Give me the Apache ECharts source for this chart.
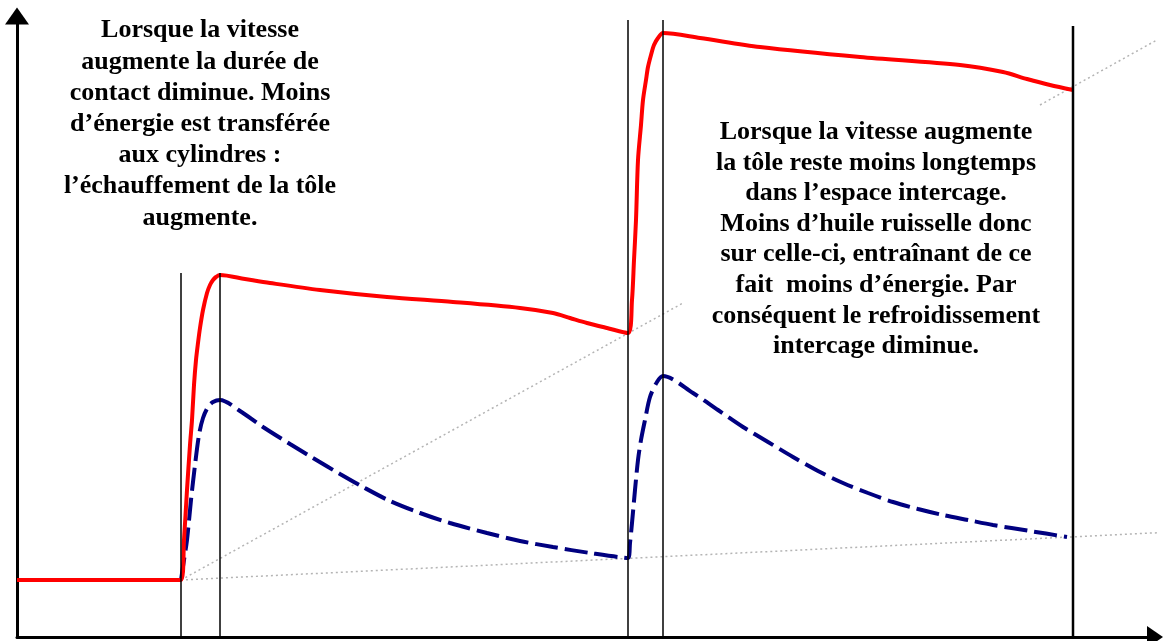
<!DOCTYPE html>
<html>
<head>
<meta charset="utf-8">
<script src="https://cdn.jsdelivr.net/npm/echarts@6/dist/echarts.min.js"></script>
<style>html,body{margin:0;padding:0;background:#fff;}#chart{width:1173px;height:641px;}</style>
</head>
<body>
<div id="chart"></div>
<script>
// Température de la tôle (rouge) et des cylindres (bleu, pointillés) en fonction du temps
var redTemp = [
  [0,57],[164,57],[167,97],[170,147],[173,192],[175,217],[177,252],[179,277],[181,294],[183,309],[186,327],[190,344],[193,352],[196,357],[199,360],[203,362],
  [228,358],[253,354],[303,347],[370,340],[436,335],[503,329],[536,324],[553,319],[570,314],[590,309],[611,304],
  [615,337],[617,377],[619,417],[621,477],[624,512],[626,537],[629,557],[631,570],[634,582],[637,592],[641,599],[646,604],
  [683,599],[743,590],[843,580],[943,572],[986,565],[1010,558],[1033,552],[1056,547]
];
var blueTemp = [
  [164,57],[167,77],[170,97],[174,137],[178,172],[182,202],[186,219],[191,230],[196,235],[203,237],
  [223,226],[246,210],[273,193],[296,179],[323,163],[346,150],[373,136],[403,124],[433,114],[470,104],[503,96],[536,90],[573,84],[611,79],
  [613,94],[615,114],[618,147],[621,177],[624,197],[628,217],[633,240],[640,255],[646,261],
  [676,244],[701,227],[726,210],[751,195],[776,180],[801,166],[826,154],[851,144],[876,135],[901,128],[926,122],[951,117],[976,112],[1013,106],[1050,100]
];
// lignes de tendance (pointillés gris)
var trendLow = [[164,57],[1156,105]];
var trendHighA = [[164,57],[666,334]];
var trendHighB = [[1023,532],[1156,606]];
// repères verticaux (instants de changement de vitesse)
var markX = [164, 203, 611, 646, 1056];
var markTop = [364, 364, 617, 617, 611];
var markWidth = [1.5, 1.5, 1.5, 1.5, 2.5];

var textLeft = 'Lorsque la vitesse\naugmente la durée de\ncontact diminue. Moins\nd’énergie est transférée\naux cylindres :\nl’échauffement de la tôle\naugmente.';
var textRight = 'Lorsque la vitesse augmente\nla tôle reste moins longtemps\ndans l’espace intercage.\nMoins d’huile ruisselle donc\nsur celle-ci, entraînant de ce\nfait  moins d’énergie. Par\nconséquent le refroidissement\nintercage diminue.';

var chart = echarts.init(document.getElementById('chart'));
var series = [];
function dotted(data) {
  return {type:'line', data:data, symbol:'none', silent:true, clip:false, z:1,
    lineStyle:{color:'#b4b4b4', width:1.5, type:[2,3]}};
}
series.push(dotted(trendLow), dotted(trendHighA), dotted(trendHighB));
series.push({type:'line', data:blueTemp, symbol:'none', smooth:0.3, silent:true, z:3,
  lineStyle:{color:'#000080', width:4, type:[23,7]}});
series.push({type:'line', data:redTemp, symbol:'none', smooth:0.3, silent:true, z:3,
  lineStyle:{color:'#ff0000', width:4}});
markX.forEach(function (x, i) {
  series.push({type:'line', data:[[x,0],[x,markTop[i]]], symbol:'none', silent:true, z:4,
    lineStyle:{color:'#000', width:markWidth[i]}});
});

chart.setOption({
  animation:false,
  backgroundColor:'#fff',
  grid:{left:17, right:18, top:16, bottom:4},
  xAxis:{type:'value', min:0, max:1138,
    axisLine:{show:true, lineStyle:{color:'#000', width:3}, symbol:['none','triangle'], symbolSize:[22,16]},
    axisTick:{show:false}, axisLabel:{show:false}, splitLine:{show:false}},
  yAxis:{type:'value', min:0, max:621,
    axisLine:{show:true, lineStyle:{color:'#000', width:3}, symbol:['none','triangle'], symbolSize:[24,17]},
    axisTick:{show:false}, axisLabel:{show:false}, splitLine:{show:false}},
  series:series,
  graphic:[
    {type:'text', x:200, y:15, z:10, silent:true,
      style:{text:textLeft, textAlign:'center', textVerticalAlign:'top', fontFamily:'Liberation Serif', fontWeight:'bold', fontSize:26, lineHeight:31.2, fill:'#000'}},
    {type:'text', x:876, y:117, z:10, silent:true,
      style:{text:textRight, textAlign:'center', textVerticalAlign:'top', fontFamily:'Liberation Serif', fontWeight:'bold', fontSize:26, lineHeight:30.6, fill:'#000'}}
  ]
});
</script>
</body>
</html>
